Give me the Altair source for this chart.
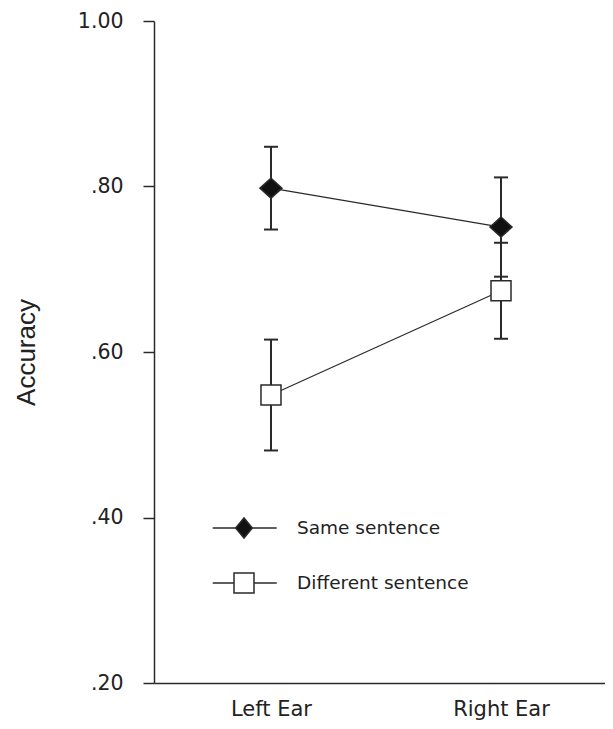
import altair as alt
import pandas as pd

# ---- data ----
ears = ["Left Ear", "Right Ear"]
series = ["Same sentence", "Different sentence"]
same_mean = [0.798, 0.751]
same_err = [0.050, 0.060]
diff_mean = [0.548, 0.674]
diff_err = [0.067, 0.058]
y_ticks = [0.2, 0.4, 0.6, 0.8, 1.0]

rows = []
for s, means, errs in [(series[0], same_mean, same_err), (series[1], diff_mean, diff_err)]:
    for ear, m, e in zip(ears, means, errs):
        rows.append({"ear": ear, "series": s, "mean": m, "lo": m - e, "hi": m + e})
df = pd.DataFrame(rows)
legend_df = pd.DataFrame({"series": series})

DARK = "#2a2a2a"
TEXT = "#222222"
FONT = "DejaVu Sans"
TITLE_FONT = "Liberation Sans"

diamond_path = "M-1.1,0L0,-1L1.1,0L0,1Z"
legend_diamond = "M-0.83,0L0,-1L0.83,0L0,1Z"

x_scale = alt.Scale(domain=ears, type="point", padding=0.4804, align=0.5294)
x_axis = alt.Axis(title=None, ticks=False, tickSize=0, labelAngle=0, labelFontSize=21,
                  labelPadding=15, labelColor=TEXT, labelFont=FONT, domainColor=DARK,
                  domainWidth=1.5, grid=False)
y_scale = alt.Scale(domain=[0.2, 1.0], zero=False, nice=False)
y_axis = alt.Axis(values=y_ticks,
                  labelExpr="datum.value >= 1 ? '1.00' : replace(format(datum.value, '.2f'), '0.', '.')",
                  title="Accuracy", titleFontSize=26, titleFontWeight="normal", titleColor=TEXT,
                  titleFont=TITLE_FONT, titlePadding=38, labelFontSize=20.5, labelFont=FONT,
                  labelColor=TEXT, labelPadding=20, tickSize=11, tickWidth=1.5, tickColor=DARK,
                  domainColor=DARK, domainWidth=1.5, grid=False)

fill_scale = alt.Scale(domain=series, range=["#111111", "#ffffff"])

base = alt.Chart(df)
lines = base.mark_line(color=DARK, strokeWidth=1.2).encode(
    x=alt.X("ear:N", scale=x_scale, axis=x_axis),
    y=alt.Y("mean:Q", scale=y_scale, axis=y_axis),
    detail="series:N",
)
bars = base.mark_rule(color=DARK, strokeWidth=2).encode(
    x=alt.X("ear:N"), y=alt.Y("lo:Q"), y2="hi:Q"
)
caps_lo = base.mark_tick(color=DARK, thickness=2, size=14, opacity=1).encode(
    x=alt.X("ear:N"), y=alt.Y("lo:Q")
)
caps_hi = base.mark_tick(color=DARK, thickness=2, size=14, opacity=1).encode(
    x=alt.X("ear:N"), y=alt.Y("hi:Q")
)
points = base.mark_point(filled=True, opacity=1, stroke=DARK, strokeWidth=1.5, size=400).encode(
    x=alt.X("ear:N"),
    y=alt.Y("mean:Q"),
    shape=alt.Shape("series:N", scale=alt.Scale(domain=series, range=[diamond_path, "square"]), legend=None),
    fill=alt.Fill("series:N", scale=fill_scale, legend=None),
)
main = alt.layer(lines, bars, caps_lo, caps_hi, points)

leg = alt.Chart(legend_df)
leg_y = alt.Y("series:N", scale=alt.Scale(domain=series, type="point", range=[507, 562], padding=0), axis=None)
leg_rule = leg.mark_rule(color=DARK, strokeWidth=1.5).encode(
    y=leg_y, x=alt.value(58.7), x2=alt.value(122.7)
)
leg_pts = leg.mark_point(filled=True, opacity=1, stroke=DARK, strokeWidth=1.5, size=400).encode(
    y=leg_y, x=alt.value(90),
    shape=alt.Shape("series:N", scale=alt.Scale(domain=series, range=[legend_diamond, "square"]), legend=None),
    fill=alt.Fill("series:N", scale=fill_scale, legend=None),
)
leg_text = leg.mark_text(align="left", baseline="middle", fontSize=18.5, font=FONT, color=TEXT).encode(
    y=leg_y, x=alt.value(143), text="series:N"
)
legend = alt.layer(leg_rule, leg_pts, leg_text)

chart = (
    alt.layer(main, legend)
    .resolve_scale(y="independent", shape="independent")
    .properties(width=451, height=662, autosize=alt.AutoSizeParams(type="none"),
                padding={"left": 146, "top": 13, "right": 0, "bottom": 38})
    .configure_view(stroke=None)
)

chart.save("out.html", embed_options={"renderer": "svg", "actions": False})
